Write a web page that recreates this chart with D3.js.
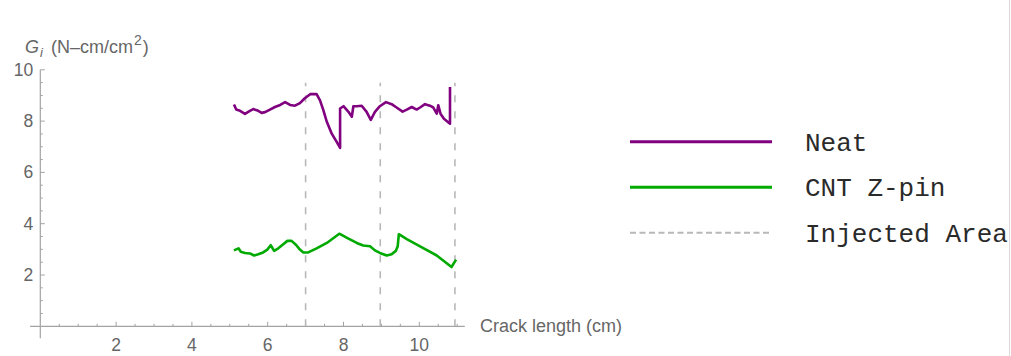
<html>
<head>
    <script src="https://d3js.org/d3.v7.min.js"></script>
    <style>
        body { margin: 0; background: #fff; }
    </style>
</head>
<body>
    <svg id="s" width="1011" height="356"></svg>
    <script>
        // data
        const neatX = [5.11, 5.17, 5.27, 5.40, 5.53, 5.62, 5.75, 5.84, 5.93, 6.06, 6.19, 6.33, 6.46, 6.59, 6.72, 6.85, 6.98, 7.12, 7.29, 7.38, 7.47, 7.56, 7.69, 7.82, 7.91, 7.91, 8.00, 8.13, 8.22, 8.26, 8.35, 8.48, 8.61, 8.72, 8.83, 8.96, 9.12, 9.27, 9.40, 9.56, 9.67, 9.80, 9.93, 10.02, 10.15, 10.28, 10.37, 10.46, 10.50, 10.56, 10.65, 10.81, 10.81]
        const neatY = [8.65, 8.45, 8.40, 8.28, 8.40, 8.47, 8.40, 8.32, 8.35, 8.45, 8.55, 8.63, 8.74, 8.63, 8.60, 8.70, 8.89, 9.05, 9.05, 8.81, 8.42, 7.97, 7.51, 7.19, 6.96, 8.49, 8.58, 8.36, 8.17, 8.58, 8.58, 8.60, 8.36, 8.05, 8.36, 8.58, 8.74, 8.66, 8.53, 8.37, 8.45, 8.55, 8.45, 8.53, 8.66, 8.60, 8.53, 8.29, 8.62, 8.29, 8.09, 7.90, 9.33]
        const cntX = [5.11, 5.23, 5.29, 5.40, 5.53, 5.64, 5.75, 5.88, 5.99, 6.08, 6.17, 6.28, 6.41, 6.52, 6.63, 6.75, 6.85, 6.94, 7.07, 7.29, 7.56, 7.89, 8.08, 8.35, 8.52, 8.70, 8.83, 8.96, 9.14, 9.27, 9.38, 9.43, 9.46, 9.67, 10.02, 10.46, 10.85, 10.97]
        const cntY = [2.96, 3.04, 2.91, 2.86, 2.84, 2.76, 2.81, 2.88, 2.99, 3.16, 2.94, 3.04, 3.20, 3.33, 3.33, 3.17, 2.99, 2.88, 2.88, 3.04, 3.25, 3.61, 3.46, 3.25, 3.15, 3.12, 2.96, 2.86, 2.76, 2.81, 2.94, 3.12, 3.59, 3.40, 3.12, 2.76, 2.31, 2.60]
        const injectedX = [7.0, 8.97, 10.94]
        const injectedTop = 9.5
        const xTicks = [2, 4, 6, 8, 10]
        const yTicks = [2, 4, 6, 8, 10]
        const legendLabels = ["Neat", "CNT Z-pin", "Injected Area"]

        const AXIS = "#a3a3a3", LABEL = "#666"
        const PURPLE = "#800080", GREEN = "#00aa00", DASH = "#b8b8b8"
        const SANS = "'Liberation Sans', Arial, sans-serif"
        const MONO = "'Liberation Mono', 'Courier New', monospace"

        const svg = d3.select("#s")

        const x = d3.scaleLinear().domain([0, 11.2]).range([40.3, 40.3 + 11.2 * 37.9])
        const y = d3.scaleLinear().domain([0, 10]).range([326.3, 69.8])

        // axes (Mathematica style, crossing at origin)
        const ax = svg.append("g")
        ax.append("line")
            .attr("x1", x(-0.27)).attr("x2", x(11.2))
            .attr("y1", y(0)).attr("y2", y(0))
            .attr("stroke", AXIS).attr("stroke-width", 1.2)
        ax.append("line")
            .attr("x1", x(0)).attr("x2", x(0))
            .attr("y1", y(-0.47)).attr("y2", y(10))
            .attr("stroke", AXIS).attr("stroke-width", 1.2)

        const xMinor = d3.range(0.5, 11.01, 0.5).filter(v => !xTicks.includes(v))
        const yMinor = d3.range(0.5, 10.01, 0.5).filter(v => !yTicks.includes(v))

        ax.selectAll(".xt").data(xTicks.concat(xMinor)).enter().append("line")
            .attr("x1", d => x(d)).attr("x2", d => x(d))
            .attr("y1", y(0)).attr("y2", d => y(0) - (xTicks.includes(d) ? 4.5 : 2.5))
            .attr("stroke", AXIS)
        ax.selectAll(".yt").data(yTicks.concat(yMinor)).enter().append("line")
            .attr("x1", x(0)).attr("x2", d => x(0) + (yTicks.includes(d) ? 4.5 : 2.5))
            .attr("y1", d => y(d)).attr("y2", d => y(d))
            .attr("stroke", AXIS)

        ax.selectAll(".xl").data(xTicks).enter().append("text")
            .attr("x", d => x(d)).attr("y", y(0) + 25)
            .attr("text-anchor", "middle")
            .style("font-family", SANS).style("font-size", "17.5px").attr("fill", LABEL)
            .text(d => d)
        ax.selectAll(".yl").data(yTicks).enter().append("text")
            .attr("x", x(0) - 7).attr("y", d => y(d) + 6)
            .attr("text-anchor", "end")
            .style("font-family", SANS).style("font-size", "17.5px").attr("fill", LABEL)
            .text(d => d)

        // axis labels
        svg.append("text")
            .attr("x", 480).attr("y", 332)
            .style("font-family", SANS).style("font-size", "18px").attr("fill", LABEL)
            .text("Crack length (cm)")

        const yl = svg.append("text")
            .attr("x", 25).attr("y", 53)
            .style("font-family", SANS).style("font-size", "18px").attr("fill", LABEL)
        yl.append("tspan").style("font-style", "italic").text("G")
        yl.append("tspan").style("font-style", "italic").style("font-size", "13px")
            .attr("dy", 4).attr("dx", 1).text("i")
        yl.append("tspan").attr("dy", -4).attr("dx", 8).text("(N\u2013cm/cm")
        yl.append("tspan").style("font-size", "14px").attr("dy", -8).attr("dx", 1).text("2")
        yl.append("tspan").attr("dy", 8).attr("dx", 1).text(")")

        // injected area markers
        svg.selectAll(".inj").data(injectedX).enter().append("line")
            .attr("x1", d => x(d)).attr("x2", d => x(d))
            .attr("y1", y(0)).attr("y2", y(injectedTop))
            .attr("stroke", DASH).attr("stroke-width", 1.6)
            .attr("stroke-dasharray", "7,9")

        // series
        const line = d3.line().x(d => x(d[0])).y(d => y(d[1]))
        svg.append("path")
            .datum(neatX.map((v, i) => [v, neatY[i]]))
            .attr("d", line).attr("fill", "none")
            .attr("stroke", PURPLE).attr("stroke-width", 2.6)
            .attr("stroke-linejoin", "round")
        svg.append("path")
            .datum(cntX.map((v, i) => [v, cntY[i]]))
            .attr("d", line).attr("fill", "none")
            .attr("stroke", GREEN).attr("stroke-width", 2.6)
            .attr("stroke-linejoin", "round")

        // legend
        const legColors = [PURPLE, GREEN, DASH]
        const leg = svg.append("g")
        legendLabels.forEach((lab, i) => {
            const ly = 141.7 + i * 45.5
            leg.append("line")
                .attr("x1", 630).attr("x2", 772)
                .attr("y1", ly).attr("y2", ly)
                .attr("stroke", legColors[i])
                .attr("stroke-width", i == 2 ? 2 : 3)
                .attr("stroke-dasharray", i == 2 ? "6,3.5" : null)
            leg.append("text")
                .attr("x", 805).attr("y", ly + 9)
                .style("font-family", MONO).style("font-size", "26px").attr("fill", "#2a2a2a")
                .text(lab)
        })

        // right border
        svg.append("line")
            .attr("x1", 1009.5).attr("x2", 1009.5)
            .attr("y1", 0).attr("y2", 356)
            .attr("stroke", "#dcdcdc")
    </script>
</body>
</html>
